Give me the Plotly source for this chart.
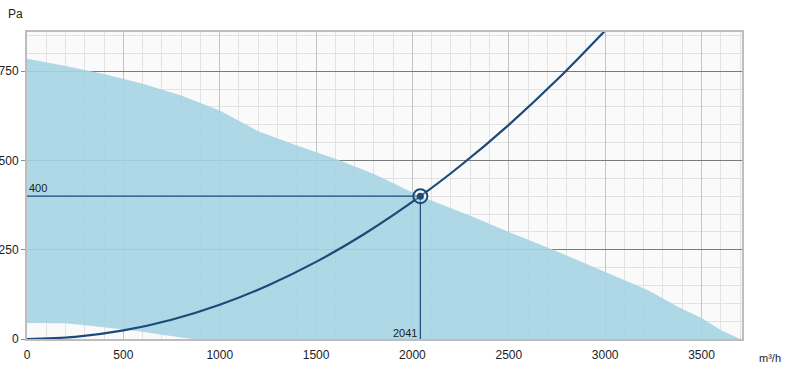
import plotly.graph_objects as go

# Fan working area (upper boundary)
upper_x = [0, 200, 400, 600, 800, 1000, 1100, 1200, 1400, 1600, 1800, 2041, 2300, 2500, 2730, 3000, 3220, 3390, 3500, 3600, 3700]
upper_y = [785, 765, 742, 715, 682, 640, 612, 582, 542, 505, 462, 400, 345, 300, 250, 188, 137, 87, 59, 25, 0]
# lower boundary (white cut-out at bottom left)
lower_x = [0, 200, 400, 500, 600, 700, 800, 860]
lower_y = [45, 44, 33, 27, 20, 12, 5, 0]

# System curve
sys_x = [0, 250, 500, 750, 1000, 1250, 1500, 1750, 2041, 2250, 2500, 2750, 3000]
sys_y = [0, 6, 24, 54, 96, 150, 216, 294, 400, 486, 600, 726, 864]

op_x, op_y = 2041, 400

x_ticks = [0, 500, 1000, 1500, 2000, 2500, 3000, 3500]
y_ticks = [0, 250, 500, 750]

DARK = "#1b4a78"
FONT = "Liberation Sans, Arial, sans-serif"

fig = go.Figure()

poly_x = lower_x + upper_x[::-1]
poly_y = lower_y + upper_y[::-1]
fig.add_trace(go.Scatter(x=poly_x, y=poly_y, fill="toself", mode="lines",
                         line=dict(width=0),
                         fillcolor="rgba(165,212,226,0.9)", hoverinfo="skip", showlegend=False))

fig.add_trace(go.Scatter(x=[0, op_x, op_x], y=[op_y, op_y, 0], mode="lines",
                         line=dict(color=DARK, width=1.2), showlegend=False))
fig.add_trace(go.Scatter(x=sys_x, y=sys_y, mode="lines",
                         line=dict(color=DARK, width=2.2, shape="spline"), showlegend=False))
fig.add_trace(go.Scatter(x=[op_x], y=[op_y], mode="markers",
                         marker=dict(size=14, color="rgba(255,255,255,0.3)", line=dict(color=DARK, width=2)),
                         showlegend=False))
fig.add_trace(go.Scatter(x=[op_x], y=[op_y], mode="markers",
                         marker=dict(size=7, color=DARK), showlegend=False))

fig.add_annotation(x=0, y=op_y, text=str(op_y), showarrow=False, xanchor="left", yanchor="bottom",
                   xshift=0, yshift=0, font=dict(family=FONT, size=11, color="#222"))
fig.add_annotation(x=op_x, y=0, text=str(op_x), showarrow=False, xanchor="right", yanchor="bottom",
                   xshift=-1, yshift=-2, font=dict(family=FONT, size=11, color="#222"))
fig.add_annotation(xref="paper", yref="paper", x=-0.029, y=1.03, text="Pa", showarrow=False,
                   xanchor="left", yanchor="bottom", font=dict(family=FONT, size=12, color="#222"))
fig.add_annotation(xref="paper", yref="paper", x=1.021, y=-0.035, text="m³/h", showarrow=False,
                   xanchor="left", yanchor="top", font=dict(family=FONT, size=11, color="#222"))

fig.update_layout(
    width=787, height=376,
    margin=dict(l=27, r=45, t=32, b=37, autoexpand=False),
    paper_bgcolor="white", plot_bgcolor="#fafafa",
    font=dict(family=FONT, size=12, color="#222"),
    xaxis=dict(range=[0, 3710], tickvals=x_ticks, showgrid=True, gridcolor="#c4c4c4", gridwidth=1,
               minor=dict(dtick=100, showgrid=True, gridcolor="#e2e2e2", gridwidth=1),
               zeroline=False, showline=True, linecolor="#bdbdbd", linewidth=2, mirror=True,
               ticks="", ticklabelstandoff=4, automargin=False),
    yaxis=dict(range=[0, 860], tickvals=y_ticks, showgrid=True, gridcolor="#7a7a7a", gridwidth=1,
               minor=dict(dtick=50, showgrid=True, gridcolor="#e2e2e2", gridwidth=1),
               zeroline=False, showline=True, linecolor="#bdbdbd", linewidth=2, mirror=True,
               ticks="outside", ticklen=4, tickcolor="#888", automargin=False),
)

fig.write_html("out.html", config={"displayModeBar": False},
               post_script="document.body.style.margin='0';document.body.style.overflow='hidden';")
